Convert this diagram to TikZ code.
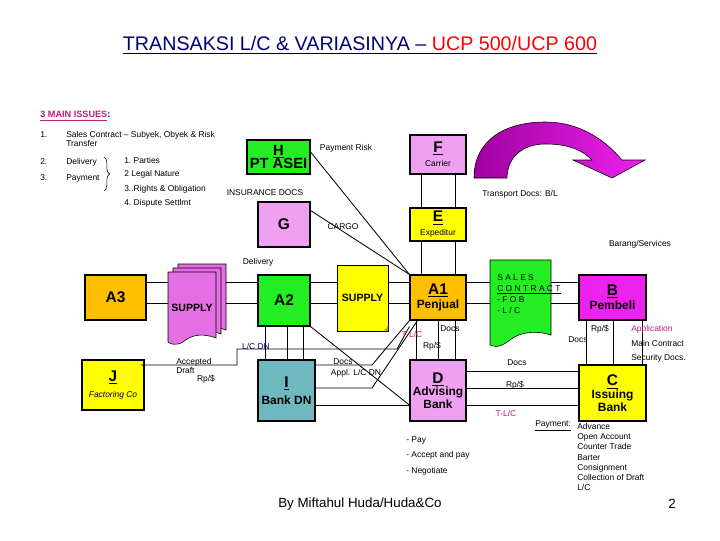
\documentclass[tikz,border=0pt]{standalone}
\usepackage{fontspec}
\setmainfont{Liberation Sans}
\usetikzlibrary{decorations.pathreplacing}
\definecolor{grn}{RGB}{34,238,34}
\definecolor{pnk}{RGB}{240,160,240}
\definecolor{ylw}{RGB}{255,255,0}
\definecolor{org}{RGB}{255,190,0}
\definecolor{mag}{RGB}{238,34,238}
\definecolor{tealbox}{RGB}{112,184,192}
\definecolor{sup}{RGB}{228,110,228}
\definecolor{lbl}{RGB}{190,30,120}
\definecolor{navy}{RGB}{0,0,120}
\tikzset{
  box/.style={draw, thick, inner sep=0pt, align=center, font=\bfseries\fontsize{11}{11}\selectfont},
  sm/.style={font=\fontsize{6}{7}\selectfont, inner sep=0pt},
  ln/.style={semithick}
}
\newcommand{\boxsub}[1]{{\fontsize{8.5}{9}\selectfont #1}}
\begin{document}
\begin{tikzpicture}[x=0.025cm, y=-0.025cm]
		\useasboundingbox (0,0) rectangle (720,540);
		
		% title and issues
		\node (title) at (360,45) {\fontsize{14}{16}\selectfont\underline{\textcolor{navy}{TRANSAKSI L/C \& VARIASINYA –} \textcolor{red}{UCP 500/UCP 600}}};
		\node[anchor=west, font=\bfseries\fontsize{6.5}{7}\selectfont, text=lbl, inner sep=0pt] (issues) at (40,116) {\underline{3 MAIN ISSUES}\textcolor{black}{:}};
		\node[sm, anchor=west] (n1) at (40,135) {1.};
		\node[sm, anchor=west, align=left] (t1) at (66,139) {Sales Contract -- Subyek, Obyek \& Risk\\Transfer};
		\node[sm, anchor=west] (n2) at (40,162) {2.};
		\node[sm, anchor=west] (t2) at (66,162) {Delivery};
		\node[sm, anchor=west] (n3) at (40,178) {3.};
		\node[sm, anchor=west] (t3) at (66,178) {Payment};
		\draw[decorate, decoration={brace, amplitude=4pt}] (104,157) -- (104,191);
		\node[sm, anchor=west] (p1) at (124,160) {1.\ Parties};
		\node[sm, anchor=west] (p2) at (124,174) {2\ Legal Nature};
		\node[sm, anchor=west] (p3) at (124,189) {3..Rights \& Obligation};
		\node[sm, anchor=west] (p4) at (124,203) {4.\ Dispute Settlmt};
		
		% boxes
		\node[box, fill=grn, minimum width=1.575cm, minimum height=0.85cm, font=\bfseries\fontsize{10.5}{10}\selectfont] (H) at (278.5,157) {\underline{H}\\[-1pt]PT ASEI};
		\node[box, fill=pnk, minimum width=1.4cm, minimum height=0.975cm] (F) at (438,154.5) {\underline{F}\\[-1pt]\normalfont\fontsize{6}{6}\selectfont Carrier};
		\node[box, fill=pnk, minimum width=1.3cm, minimum height=1.125cm] (G) at (284,224.5) {G};
		\node[box, fill=ylw, minimum width=1.4cm, minimum height=0.825cm] (E) at (438,224.5) {\underline{E}\\[-1pt]\normalfont\fontsize{6}{6}\selectfont Expeditur};
		\node[box, fill=org, minimum width=1.525cm, minimum height=1.125cm] (A3) at (115.5,297.5) {A3};
		\node[box, fill=grn, minimum width=1.3cm, minimum height=1.275cm] (A2) at (284,300.5) {A2};
		\node[box, fill=org, minimum width=1.4cm, minimum height=1.125cm] (A1) at (438,297.5) {\underline{A1}\\[-1pt]\boxsub{Penjual}};
		\node[box, fill=mag, minimum width=1.675cm, minimum height=1.125cm] (B) at (612.5,297.5) {\underline{B}\\[-1pt]\boxsub{Pembeli}};
		\node[box, fill=ylw, minimum width=1.55cm, minimum height=1.25cm] (J) at (113,385) {\underline{J}\\[1pt]\normalfont\itshape\fontsize{6}{6}\selectfont Factoring Co};
		\node[box, fill=tealbox, minimum width=1.425cm, minimum height=1.525cm] (I) at (286.5,390.5) {\underline{I}\\[1pt]\boxsub{Bank DN}};
		\node[box, fill=pnk, minimum width=1.4cm, minimum height=1.525cm] (D) at (438,390.5) {\underline{D}\\[-2pt]\boxsub{Advising}\\[-2pt]\boxsub{Bank}};
		\node[box, fill=ylw, minimum width=1.675cm, minimum height=1.4cm] (C) at (612.5,393) {\underline{C}\\[-2pt]\boxsub{Issuing}\\[-2pt]\boxsub{Bank}};
		\node[box, fill=ylw, thin, minimum width=1.275cm, minimum height=1.65cm, font=\bfseries\fontsize{7.5}{8}\selectfont] (SY) at (362.5,298) {SUPPLY};
		\fill[ylw!70!black] (384,331) -- (388,326) -- (388,331) -- cycle;
		
		% supply stack
		\foreach \dx/\dy in {10/-8,5/-4,0/0} {
			\draw[fill=sup] (168+\dx,272+\dy) -- (216+\dx,272+\dy) -- (216+\dx,338+\dy)
				.. controls (200+\dx,332+\dy) and (190+\dx,336+\dy) .. (183+\dx,342+\dy)
				.. controls (176+\dx,346+\dy) and (170+\dx,344+\dy) .. (168+\dx,342+\dy) -- cycle;
		}
		\node[font=\bfseries\fontsize{7.5}{8}\selectfont, inner sep=0pt] (SP) at (192,308) {SUPPLY};
		\coordinate (SPl) at (168,300);
		\coordinate (SPr) at (226,300);
		
		% sales contract
		\draw[fill=grn] (490,260) -- (551,260) -- (551,335)
			.. controls (535,330) and (520,332) .. (510,340) .. controls (500,348) and (494,347) .. (490,345) -- cycle;
		\node[sm, anchor=north west, align=left] (SC) at (497,274) {S A L E S\\[1pt]\underline{C O N T R A C T}\\[1pt]- F O B\\[1pt]- L / C};
		\coordinate (SCl) at (490,300);
		\coordinate (SCr) at (551,300);
		
		% curved arrow
		\shade[left color=violet!75!magenta, right color=mag, draw=black, thin]
			(474,178) .. controls (474,140) and (505,122) .. (545,122)
			.. controls (580,122) and (605,140) .. (622,160) -- (645,160) -- (612,178) -- (573,160) -- (592,160)
			.. controls (580,148) and (565,144) .. (545,144)
			.. controls (522,144) and (507,158) .. (507,178) -- cycle;
		
		% connectors
		\coordinate (r1) at (0,282);
		\coordinate (r2) at (0,303);
		\foreach \y in {r1,r2} {
			\draw[ln] (A3.east |- \y) -- (SPl |- \y);
			\draw[ln] (SPr |- \y) -- (A2.west |- \y);
			\draw[ln] (A2.east |- \y) -- (SY.west |- \y);
			\draw[ln] (SY.east |- \y) -- (A1.west |- \y);
			\draw[ln] (A1.east |- \y) -- (SCl |- \y);
			\draw[ln] (SCr |- \y) -- (B.west |- \y);
		}
		\foreach \x in {421,455} {
			\draw[ln] (F.south -| \x,0) -- (E.north -| \x,0);
			\draw[ln] (E.south -| \x,0) -- (A1.north -| \x,0);
		}
		\foreach \x in {265,287,303}
			\draw[ln] (A2.south -| \x,0) -- (I.north -| \x,0);
		\foreach \x in {416,438,455}
			\draw[ln] (A1.south -| \x,0) -- (D.north -| \x,0);
		\foreach \x in {586,613,642}
			\draw[ln] (B.south -| \x,0) -- (C.north -| \x,0);
		\foreach \y in {371,388,405}
			\draw[ln] (D.east |- 0,\y) -- (C.west |- 0,\y);
		\draw[ln] (H.east) ++(0,-5) -- (A1.north west);
		\draw[ln] (G.east) ++(0,-14) -- (A1.north west);
		\draw[ln] (A2.south east) -- (D.west |- 0,405);
		\draw[ln] (I.east |- 0,405) -- (D.west |- 0,405);
		\draw[ln] (I.east |- 0,365) -- (372,365) -- (A1.south west);
		\draw[ln] (I.east |- 0,388) -- (372,388) -- ([xshift=0.2cm]A1.south west);
		\draw[ln] ([xshift=-0.1cm]J.east |- 0,365) -- (237,365) -- (237,349) -- (397,349) -- ([yshift=-0.15cm]A1.south west);
		
		% labels
		\node[sm] (l1) at (346,148) {Payment Risk};
		\node[sm] (l2) at (265,193) {INSURANCE DOCS};
		\node[sm] (l3) at (520,194) {Transport Docs: B/L};
		\node[sm] (l4) at (343,227) {CARGO};
		\node[sm] (l5) at (640,244) {Barang/Services};
		\node[sm] (l6) at (258,262) {Delivery};
		\node[sm, text=navy] (l7) at (256,346) {L/C DN};
		\node[sm, anchor=west, align=left] (l8) at (176,366) {Accepted\\Draft};
		\node[sm] (l9) at (206,379) {Rp/\$};
		\node[sm] (l10) at (343,362) {Docs};
		\node[sm] (l11) at (356,373) {Appl. L/C DN};
		\node[sm, text=lbl] (l12) at (412,334) {T-L/C};
		\node[sm] (l13) at (450,329) {Docs};
		\node[sm] (l14) at (432,346) {Rp/\$};
		\node[sm] (l15) at (600,329) {Rp/\$};
		\node[sm] (l16) at (578,340) {Docs};
		\node[sm, text=lbl, anchor=west] (l17) at (631,329) {Application};
		\node[sm, anchor=west] (l18) at (631,343) {Main Contract};
		\node[sm, anchor=west] (l19) at (631,358) {Security Docs.};
		\node[sm] (l20) at (517,363) {Docs};
		\node[sm] (l21) at (515,385) {Rp/\$};
		\node[sm, text=lbl] (l22) at (506,413) {T-L/C};
		\node[sm, anchor=west] (l23) at (535,426) {\underline{Payment:}};
		\node[sm, anchor=north west, align=left] (l24) at (577,423) {Advance\\[0.3pt]Open Account\\[0.3pt]Counter Trade\\[0.3pt]Barter\\[0.3pt]Consignment\\[0.3pt]Collection of Draft\\[0.3pt]L/C};
		\node[sm, anchor=north west, align=left] (l25) at (406,436) {- Pay\\[4pt]- Accept and pay\\[4pt]- Negotiate};
		\node[font=\fontsize{9.5}{11}\selectfont] (by) at (360,504) {By Miftahul Huda/Huda\&Co};
		\node[font=\fontsize{9.5}{11}\selectfont] (pg) at (672,504) {2};
	\end{tikzpicture}
\end{document}
